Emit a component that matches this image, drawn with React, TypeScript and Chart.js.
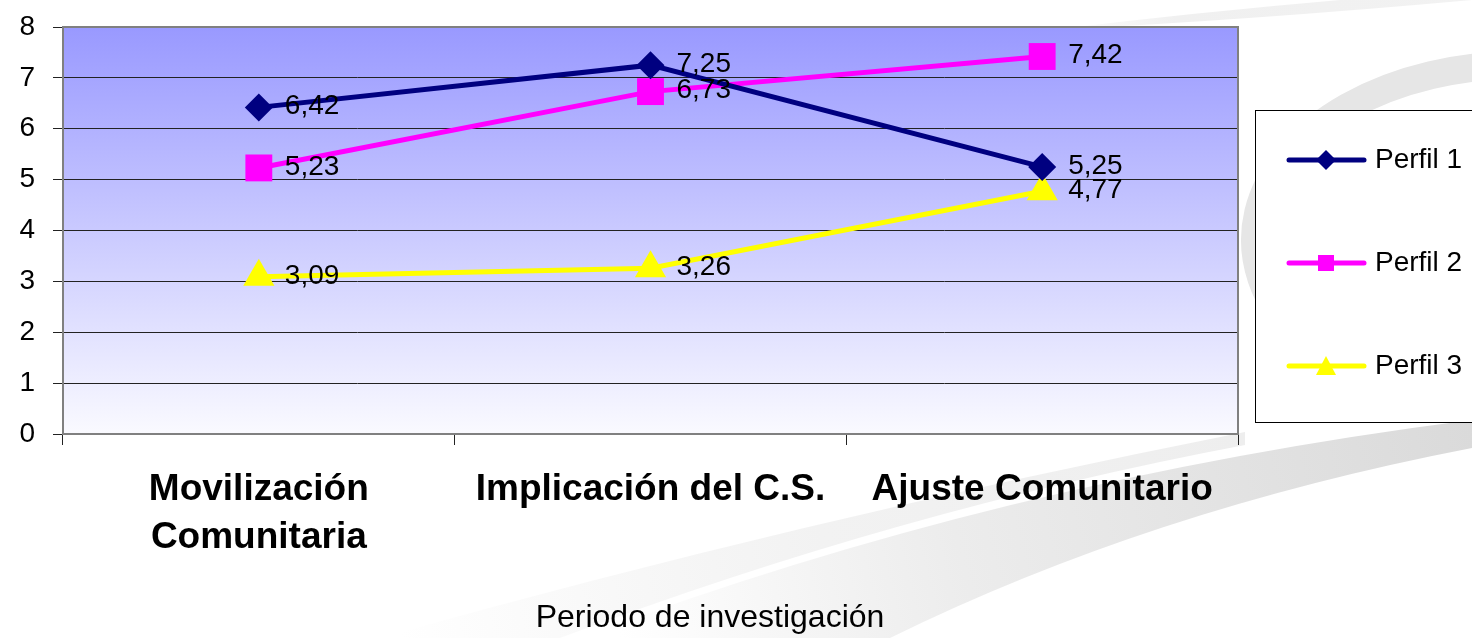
import React, { useEffect, useRef } from "react";
import { Chart, registerables } from "chart.js";

Chart.register(...registerables);

const categories: (string | string[])[] = [
  ["Movilización", "Comunitaria"],
  "Implicación del C.S.",
  "Ajuste Comunitario",
];
const perfil1: number[] = [6.42, 7.25, 5.25];
const perfil2: number[] = [5.23, 6.73, 7.42];
const perfil3: number[] = [3.09, 3.26, 4.77];
const seriesNames: string[] = ["Perfil 1", "Perfil 2", "Perfil 3"];
const seriesColors: string[] = ["#000080", "#FF00FF", "#FFFF00"];
const seriesMarkers: string[] = ["rectRot", "rect", "triangle"];
const yTicks: number[] = [0, 1, 2, 3, 4, 5, 6, 7, 8];
const xTitle = "Periodo de investigación";

const FONT = "'Liberation Sans', Arial, sans-serif";

const fmt = (v: number) => v.toFixed(2).replace(".", ",");

const backgroundPlugin = {
  id: "bgPlugin",
  beforeDraw(chart: any) {
    const { ctx, width, height, chartArea } = chart;
    ctx.save();
    ctx.fillStyle = "#ffffff";
    ctx.fillRect(0, 0, width, height);

    // top wedge
    let g = ctx.createLinearGradient(1050, 0, 1472, 0);
    g.addColorStop(0, "rgba(240,240,240,0)");
    g.addColorStop(0.3, "rgba(240,240,240,1)");
    g.addColorStop(1, "rgba(242,242,242,1)");
    ctx.fillStyle = g;
    ctx.beginPath();
    ctx.moveTo(1050, 30);
    ctx.quadraticCurveTo(1200, 12, 1340, 0);
    ctx.lineTo(1472, 0);
    ctx.quadraticCurveTo(1250, 20, 1050, 30);
    ctx.closePath();
    ctx.fill();

    // ring around the legend
    ctx.strokeStyle = "#e6e6e6";
    ctx.lineWidth = 28;
    ctx.beginPath();
    ctx.ellipse(1520, 240, 265, 175, 0, Math.PI * 0.55, Math.PI * 1.5, false);
    ctx.stroke();

    // band B (upper-left, lighter)
    g = ctx.createLinearGradient(400, 638, 1245, 432);
    g.addColorStop(0, "rgba(240,240,240,0)");
    g.addColorStop(0.5, "rgba(242,242,242,1)");
    g.addColorStop(1, "rgba(238,238,238,1)");
    ctx.fillStyle = g;
    ctx.beginPath();
    ctx.moveTo(1245, 432);
    ctx.quadraticCurveTo(800, 520, 380, 638);
    ctx.lineTo(560, 638);
    ctx.quadraticCurveTo(900, 510, 1245, 445);
    ctx.closePath();
    ctx.fill();

    // band A (main lower band)
    g = ctx.createLinearGradient(620, 638, 1472, 430);
    g.addColorStop(0, "rgba(235,235,235,0)");
    g.addColorStop(0.4, "rgba(236,236,236,1)");
    g.addColorStop(1, "rgba(218,218,218,1)");
    ctx.fillStyle = g;
    ctx.beginPath();
    ctx.moveTo(1472, 420);
    ctx.quadraticCurveTo(1000, 480, 580, 638);
    ctx.lineTo(890, 638);
    ctx.quadraticCurveTo(1150, 510, 1472, 448);
    ctx.closePath();
    ctx.fill();

    // plot area gradient
    const { left, top, right, bottom } = chartArea;
    const pg = ctx.createLinearGradient(0, top, 0, bottom);
    pg.addColorStop(0, "#9999FF");
    pg.addColorStop(1, "#FAFAFF");
    ctx.fillStyle = pg;
    ctx.fillRect(left, top, right - left, bottom - top);
    ctx.restore();
  },
  afterDatasetsDraw(chart: any) {
    const { ctx } = chart;
    ctx.save();
    ctx.font = `28px ${FONT}`;
    ctx.fillStyle = "#000";
    ctx.textAlign = "left";
    ctx.textBaseline = "middle";
    chart.data.datasets.forEach((ds: any, i: number) => {
      const meta = chart.getDatasetMeta(i);
      meta.data.forEach((pt: any, j: number) => {
        ctx.fillText(fmt(ds.data[j]), pt.x + 26, pt.y - 1);
      });
    });
    ctx.restore();
  },
  afterDraw(chart: any) {
    const { ctx, chartArea } = chart;
    const { left, top, right, bottom } = chartArea;
    ctx.save();
    ctx.strokeStyle = "#808080";
    ctx.lineWidth = 2;
    ctx.beginPath();
    ctx.moveTo(left, top);
    ctx.lineTo(right, top);
    ctx.lineTo(right, bottom);
    ctx.stroke();

    // legend
    ctx.fillStyle = "#ffffff";
    ctx.fillRect(1255, 110, 230, 312);
    ctx.strokeStyle = "#000";
    ctx.lineWidth = 1;
    ctx.strokeRect(1255.5, 110.5, 230, 312);
    const ys = [160, 263, 366];
    chart.data.datasets.forEach((ds: any, i: number) => {
      const y = ys[i];
      ctx.strokeStyle = ds.borderColor;
      ctx.lineWidth = 5;
      ctx.lineCap = "round";
      ctx.beginPath();
      ctx.moveTo(1289, y);
      ctx.lineTo(1364, y);
      ctx.stroke();
      ctx.fillStyle = ds.borderColor;
      ctx.beginPath();
      const cx = 1326;
      if (i === 0) {
        ctx.moveTo(cx - 10, y);
        ctx.lineTo(cx, y - 10);
        ctx.lineTo(cx + 10, y);
        ctx.lineTo(cx, y + 10);
      } else if (i === 1) {
        ctx.rect(cx - 8, y - 8, 16, 16);
      } else {
        ctx.moveTo(cx, y - 10);
        ctx.lineTo(cx + 10, y + 9);
        ctx.lineTo(cx - 10, y + 9);
      }
      ctx.closePath();
      ctx.fill();
      ctx.fillStyle = "#000";
      ctx.font = `28px ${FONT}`;
      ctx.textAlign = "left";
      ctx.textBaseline = "middle";
      ctx.fillText(ds.label, 1375, y);
    });

    // x axis title
    ctx.fillStyle = "#000";
    ctx.font = `32px ${FONT}`;
    ctx.textAlign = "center";
    ctx.textBaseline = "middle";
    ctx.fillText(xTitle, 710, 618);
    ctx.restore();
  },
};

export default function App() {
  const ref = useRef<HTMLCanvasElement | null>(null);

  useEffect(() => {
    document.body.style.margin = "0";
    if (!ref.current) return;
    const data = [perfil1, perfil2, perfil3];
    const chart = new Chart(ref.current, {
      type: "line",
      data: {
        labels: categories as any,
        datasets: data.map((d, i) => ({
          label: seriesNames[i],
          data: d,
          borderColor: seriesColors[i],
          backgroundColor: seriesColors[i],
          pointBackgroundColor: seriesColors[i],
          pointBorderColor: seriesColors[i],
          pointBorderWidth: 0,
          pointStyle: seriesMarkers[i] as any,
          pointRadius: i === 0 ? 14 : i === 1 ? 19 : 18,
          borderWidth: 5,
          tension: 0,
          fill: false,
        })),
      },
      options: {
        animation: false,
        responsive: true,
        maintainAspectRatio: false,
        layout: { padding: { top: 27, right: 234, bottom: 0, left: 0 } },
        plugins: {
          legend: { display: false },
          tooltip: { enabled: false },
          title: { display: false },
        },
        scales: {
          x: {
            type: "category",
            offset: true,
            afterFit(scale: any) {
              scale.height = 204;
              scale.paddingLeft = 0;
              scale.paddingRight = 0;
            },
            grid: {
              display: true,
              drawOnChartArea: false,
              drawTicks: true,
              tickLength: 11,
              offset: true,
              color: "#222",
              lineWidth: 1,
            },
            border: { display: true, color: "#808080", width: 2 },
            ticks: {
              color: "#000",
              padding: 20,
              maxRotation: 0,
              autoSkip: false,
              font: { family: FONT, size: 37, weight: "bold", lineHeight: 1.316 },
            },
          },
          y: {
            min: 0,
            max: 8,
            afterFit(scale: any) {
              scale.width = 63;
              scale.paddingTop = 0;
              scale.paddingBottom = 0;
            },
            afterBuildTicks(scale: any) {
              scale.ticks = yTicks.map((v) => ({ value: v }));
            },
            grid: {
              display: true,
              drawOnChartArea: true,
              drawTicks: true,
              tickLength: 10,
              color: "#222",
              lineWidth: 1,
            },
            border: { display: true, color: "#808080", width: 2 },
            ticks: {
              color: "#000",
              padding: 18,
              font: { family: FONT, size: 28 },
              callback: (v: any) => String(v),
            },
          },
        },
      },
      plugins: [backgroundPlugin],
    });
    return () => chart.destroy();
  }, []);

  return (
    <div style={{ width: 1472, height: 638, position: "relative" }}>
      <canvas ref={ref} />
    </div>
  );
}
